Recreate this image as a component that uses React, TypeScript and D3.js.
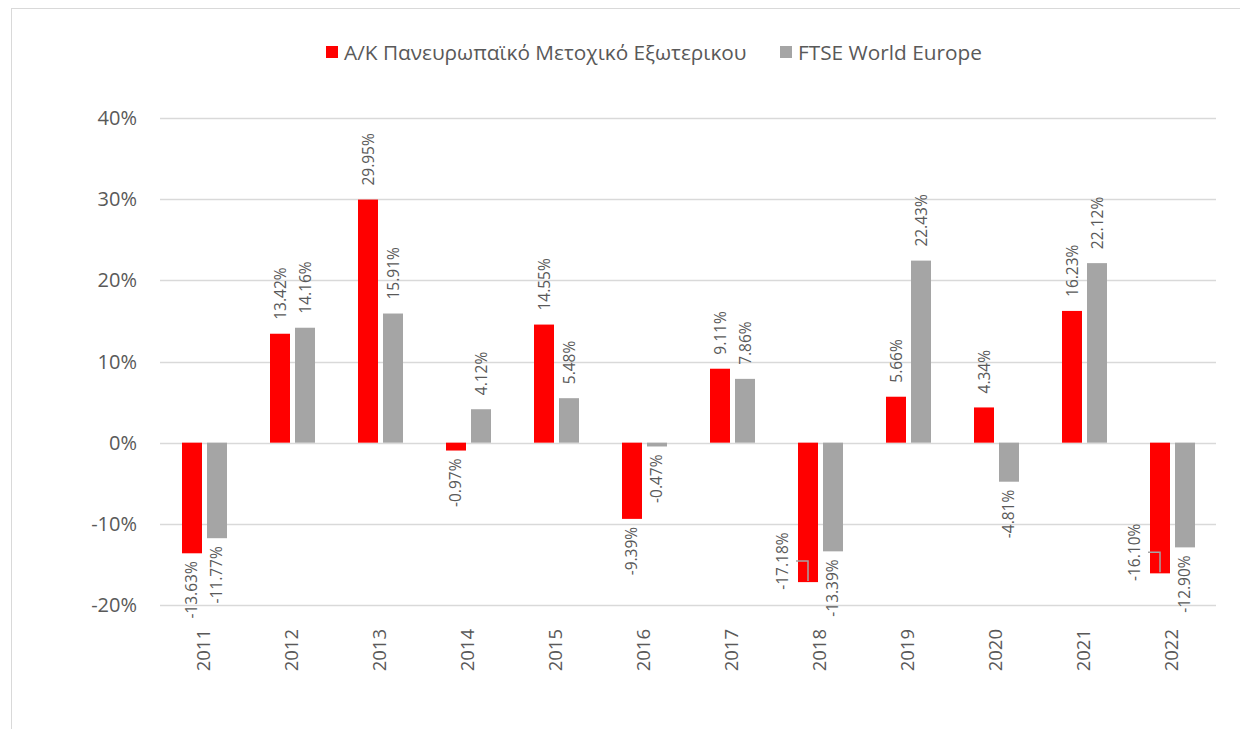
import React from 'react';
import * as d3 from 'd3';

const years = ['2011', '2012', '2013', '2014', '2015', '2016', '2017', '2018', '2019', '2020', '2021', '2022'];
const fundValues = [-13.63, 13.42, 29.95, -0.97, 14.55, -9.39, 9.11, -17.18, 5.66, 4.34, 16.23, -16.1];
const indexValues = [-11.77, 14.16, 15.91, 4.12, 5.48, -0.47, 7.86, -13.39, 22.43, -4.81, 22.12, -12.9];
const seriesNames = ['Α/Κ Πανευρωπαϊκό Μετοχικό Εξωτερικου', 'FTSE World Europe'];
const seriesColors = ['#ff0000', '#a5a5a5'];
const yTicks = [-20, -10, 0, 10, 20, 30, 40];
// labels that Excel moved beside the bar with a leader line
const leaderLabels = ['2018', '2022'];

const FONT = "'Open Sans', 'Noto Sans', sans-serif";
const TXT = '#595959';

export default function App() {
  const x = d3.scaleBand().domain(years).range([160, 1216]);
  const y = d3.scaleLinear().domain([-20, 40]).range([605, 118]);
  const sub = d3.scaleBand().domain(['0', '1']).range([-22, 23]).paddingInner(0.2);
  const fmt = (v: number) => v.toFixed(2) + '%';
  const series = [fundValues, indexValues];
  const lblSize = 15.5;

  return (
    <svg width={1240} height={721} style={{ display: 'block' }}>
      <g transform="translate(-8,-8)">
        <rect x={11.5} y={8.5} width={1300} height={800} fill="#fff" stroke="#d9d9d9" />
        {yTicks.map(t => (
          <g key={t}>
            <line x1={160} x2={1216} y1={Math.round(y(t)) + 0.5} y2={Math.round(y(t)) + 0.5} stroke="#d9d9d9" strokeWidth={1.3} />
            <text x={137} y={y(t)} dy="0.35em" textAnchor="end" fontFamily={FONT} fontSize={20} fill={TXT}>{t}%</text>
          </g>
        ))}
        {series.map((vals, si) => (
          <g key={si}>
            {vals.map((v, i) => {
              const yr = years[i];
              const bx = (x(yr) as number) + x.bandwidth() / 2 + (sub(String(si)) as number);
              const bw = sub.bandwidth();
              const y0 = y(0), y1 = y(v);
              const top = Math.min(y0, y1), h = Math.abs(y1 - y0);
              const cx = bx + bw / 2;
              let label;
              if (si === 0 && leaderLabels.includes(yr)) {
                const bottom = y1;
                const ly = bottom - 21;
                const lx = bx - 15;
                label = (
                  <g>
                    <path d={`M${bx - 2},${ly} H${cx} V${bottom - 1}`} fill="none" stroke="#a5a5a5" strokeWidth={1.5} />
                    <text transform={`translate(${lx},${ly}) rotate(-90)`} textAnchor="middle" dy="0.35em" fontFamily={FONT} fontSize={lblSize} fill={TXT}>{fmt(v)}</text>
                  </g>
                );
              } else if (v >= 0) {
                label = (
                  <text transform={`translate(${cx + 1},${y1 - 14}) rotate(-90)`} textAnchor="start" dy="0.35em" fontFamily={FONT} fontSize={lblSize} fill={TXT}>{fmt(v)}</text>
                );
              } else {
                label = (
                  <text transform={`translate(${cx},${y1 + 8}) rotate(-90)`} textAnchor="end" dy="0.35em" fontFamily={FONT} fontSize={lblSize} fill={TXT}>{fmt(v)}</text>
                );
              }
              return (
                <g key={yr}>
                  <rect x={bx} y={top} width={bw} height={h} fill={seriesColors[si]} />
                  {label}
                </g>
              );
            })}
          </g>
        ))}
        {years.map(yr => (
          <text key={yr} transform={`translate(${(x(yr) as number) + x.bandwidth() / 2},629) rotate(-90)`} textAnchor="end" dy="0.35em" fontFamily={FONT} fontSize={18.5} fill={TXT}>{yr}</text>
        ))}
        {seriesNames.map((n, i) => {
          const lx = i === 0 ? 326 : 780;
          return (
            <g key={n}>
              <rect x={lx} y={46} width={12} height={12} fill={seriesColors[i]} />
              <text x={lx + 18} y={53} dy="0.35em" fontFamily={FONT} fontSize={20.8} fill={TXT}>{n}</text>
            </g>
          );
        })}
      </g>
    </svg>
  );
}
